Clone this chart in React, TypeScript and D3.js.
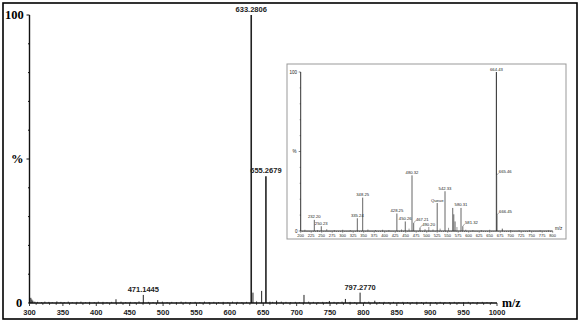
import React from "react";
import * as d3 from "d3";

// ---- Main spectrum data ----
const mainPeakMz = [632, 634.6, 647.6, 654, 470.4, 429.5, 492, 302, 303.5, 305, 670, 711, 749, 773, 795, 817];
const mainPeakHeight = [100, 3.6, 4.2, 44, 2.8, 1.3, 1.0, 1.8, 1.2, 0.8, 0.8, 2.8, 0.7, 1.4, 3.6, 0.8];
const mainPeakLabel = ["633.2806", "", "", "655.2679", "471.1445", "", "", "", "", "", "", "", "", "", "797.2770", ""];

const noiseMz = [308, 312, 318, 323, 329, 334, 341, 347, 352, 358, 364, 371, 377, 384, 390, 397, 403, 410, 416, 423, 437, 444, 451, 458, 464, 478, 485, 499, 506, 513, 520, 527, 534, 541, 548, 555, 562, 569, 576, 583, 590, 597, 604, 611, 618, 625, 640, 660, 664, 677, 684, 691, 698, 704, 718, 725, 732, 739, 745, 756, 762, 768, 780, 787, 802, 808, 824, 831, 838, 845, 852, 859, 866, 873, 880, 887, 894, 901, 908, 915, 922, 929, 936, 943, 950, 957, 964, 971, 978, 985, 992];
const noiseHeight = [0.5, 0.4, 0.3, 0.5, 0.4, 0.3, 0.6, 0.4, 0.3, 0.5, 0.3, 0.4, 0.5, 0.3, 0.4, 0.3, 0.5, 0.4, 0.3, 0.4, 0.5, 0.3, 0.4, 0.3, 0.6, 0.4, 0.3, 0.5, 0.3, 0.4, 0.3, 0.5, 0.4, 0.3, 0.4, 0.3, 0.5, 0.3, 0.4, 0.3, 0.4, 0.3, 0.5, 0.4, 0.3, 0.4, 0.6, 0.5, 0.4, 0.5, 0.4, 0.3, 0.4, 0.3, 0.5, 0.4, 0.3, 0.4, 0.3, 0.4, 0.3, 0.5, 0.4, 0.3, 0.4, 0.5, 0.3, 0.4, 0.3, 0.4, 0.3, 0.4, 0.3, 0.3, 0.4, 0.3, 0.4, 0.3, 0.3, 0.4, 0.3, 0.3, 0.4, 0.3, 0.3, 0.4, 0.3, 0.3, 0.4, 0.3, 0.3];

const mainTicks = [300, 350, 400, 450, 500, 550, 600, 650, 700, 750, 800, 850, 900, 950, 1000];

// ---- Inset spectrum data ----
const insetMz = [232.4, 249, 334.8, 347.6, 429, 449, 469, 465, 484, 525, 543.6, 562, 564.5, 567.5, 581.7, 586, 666, 666.6, 667.2, 680];
const insetHeight = [7, 3, 8, 21, 11, 6, 5, 35, 2, 17.6, 25, 14.5, 10.5, 6, 14.5, 3, 100, 35, 10, 1.5];
const insetLabel = ["232.20", "250.23", "335.24", "348.25", "428.25", "450.26", "467.21", "480.32", "490.20", "Queue", "542.33", "", "", "", "580.31", "581.32", "664.43", "665.46", "666.45", ""];
const insetLabelSide = ["top", "top", "top", "top", "top", "top", "right", "top", "right", "top", "top", "", "", "", "top", "right", "top", "right", "right", ""];

const insetNoiseMz = [210, 240, 262, 280, 300, 318, 360, 378, 395, 410, 440, 458, 496, 505, 515, 532, 552, 572, 593, 610, 630, 650, 700, 720, 745, 770, 790];
const insetNoiseHeight = [0.8, 0.6, 1.2, 0.6, 0.8, 0.6, 1.0, 0.6, 0.8, 0.6, 1.0, 1.5, 1.2, 2.5, 1.0, 1.5, 2.0, 2.5, 0.8, 0.6, 0.6, 0.8, 0.6, 0.5, 0.6, 0.5, 0.4];

const insetTicks = d3.range(200, 801, 25);

export default function App() {
  // main scales
  const x = d3.scaleLinear().domain([300, 1000]).range([29.5, 497]);
  const y = d3.scaleLinear().domain([0, 100]).range([303, 15]);
  // inset scales
  const ix = d3.scaleLinear().domain([200, 800]).range([300.7, 552.7]);
  const iy = d3.scaleLinear().domain([0, 100]).range([231, 72]);

  const serif = "'Liberation Serif', 'Times New Roman', serif";
  const sans = "'Liberation Sans', Arial, sans-serif";

  const minorMain = d3.range(300, 1001, 10);
  const minorInset = d3.range(200, 801, 5);

  return (
    <svg width={580} height={324} style={{ position: "absolute", left: 0, top: 0, background: "#fff" }}>
      <rect x={0} y={0} width={580} height={324} fill="#fff" />
      <rect x={3} y={3} width={574} height={316} fill="none" stroke="#000" strokeWidth={1.6} />

      {/* ===== Main chart ===== */}
      {noiseMz.map((m, i) => (
        <line key={"n" + i} x1={x(m)} x2={x(m)} y1={y(0)} y2={y(noiseHeight[i])} stroke="#333" strokeWidth={0.8} />
      ))}
      {mainPeakMz.map((m, i) => (
        <line key={"p" + i} x1={x(m)} x2={x(m)} y1={y(0)} y2={y(mainPeakHeight[i])} stroke="#222"
          strokeWidth={mainPeakHeight[i] > 20 ? 1.6 : 1} />
      ))}
      {mainPeakMz.map((m, i) =>
        mainPeakLabel[i] ? (
          <text key={"pl" + i} x={x(m)} y={y(mainPeakHeight[i]) - 3} textAnchor="middle" fontFamily={sans}
            fontSize={7.5} fontWeight="bold" fill="#222">{mainPeakLabel[i]}</text>
        ) : null
      )}
      {/* y axis */}
      <line x1={29.5} x2={29.5} y1={y(100)} y2={y(0)} stroke="#111" strokeWidth={1.4} />
      {d3.range(0, 101, 10).map((v) => (
        <line key={"yt" + v} x1={v === 100 || v === 50 ? 26.5 : 28} x2={29.5} y1={y(v)} y2={y(v)} stroke="#111" strokeWidth={1} />
      ))}
      <text x={5} y={y(100) + 4} fontFamily={serif} fontWeight="bold" fontSize={12.5} fill="#000">100</text>
      <text x={11} y={y(50) + 4} fontFamily={serif} fontWeight="bold" fontSize={12.5} fill="#000">%</text>
      <text x={16} y={y(0) + 4} fontFamily={serif} fontWeight="bold" fontSize={12.5} fill="#000">0</text>
      {/* x axis */}
      <line x1={29.5} x2={497} y1={y(0)} y2={y(0)} stroke="#111" strokeWidth={1.4} />
      {minorMain.map((v) => (
        <line key={"xm" + v} x1={x(v)} x2={x(v)} y1={y(0)} y2={y(0) + (v % 50 === 0 ? 3 : 1.8)} stroke="#111" strokeWidth={0.8} />
      ))}
      {mainTicks.map((v) => (
        <text key={"xl" + v} x={x(v)} y={314.5} textAnchor="middle" fontFamily={sans} fontSize={7.5} fontWeight="bold" fill="#222">{v}</text>
      ))}
      <text x={502} y={307} fontFamily={serif} fontWeight="bold" fontSize={12} fill="#000">m/z</text>

      {/* ===== Inset ===== */}
      <rect x={287} y={64} width={279} height={175} fill="#fff" stroke="#999" strokeWidth={1} />
      {insetNoiseMz.map((m, i) => (
        <line key={"in" + i} x1={ix(m)} x2={ix(m)} y1={iy(0)} y2={iy(insetNoiseHeight[i])} stroke="#555" strokeWidth={0.6} />
      ))}
      {insetMz.map((m, i) => (
        <line key={"ip" + i} x1={ix(m)} x2={ix(m)} y1={iy(0)} y2={iy(insetHeight[i])} stroke={insetHeight[i] > 50 ? "#444" : "#555"}
          strokeWidth={insetHeight[i] > 50 ? 1.2 : 0.9} />
      ))}
      {insetMz.map((m, i) => {
        const lab = insetLabel[i];
        if (!lab) return null;
        const px = ix(m);
        const py = iy(insetHeight[i]);
        if (insetLabelSide[i] === "right") {
          return (
            <g key={"il" + i}>
              <line x1={px} y1={py} x2={px + 2} y2={py - 2.5} stroke="#555" strokeWidth={0.5} />
              <text x={px + 2.2} y={py - 2.2} fontFamily={sans} fontSize={4.2} fill="#222">{lab}</text>
            </g>
          );
        }
        return (
          <text key={"il" + i} x={px} y={py - 1.5} textAnchor="middle" fontFamily={sans} fontSize={4.2} fill="#222">{lab}</text>
        );
      })}
      {/* inset axes */}
      <line x1={ix(200)} x2={ix(200)} y1={iy(100)} y2={iy(0)} stroke="#333" strokeWidth={1} />
      {d3.range(0, 101, 10).map((v) => (
        <line key={"iyt" + v} x1={ix(200) - (v % 50 === 0 ? 2 : 1)} x2={ix(200)} y1={iy(v)} y2={iy(v)} stroke="#333" strokeWidth={0.6} />
      ))}
      <text x={289.5} y={iy(100) + 1.5} fontFamily={sans} fontSize={4.5} fill="#222">100</text>
      <text x={292.5} y={iy(50) + 1.5} fontFamily={sans} fontSize={4.5} fill="#222">%</text>
      <text x={295} y={iy(0) + 1.5} fontFamily={sans} fontSize={4.5} fill="#222">0</text>
      <line x1={ix(200)} x2={ix(800)} y1={iy(0)} y2={iy(0)} stroke="#333" strokeWidth={1} />
      {minorInset.map((v) => (
        <line key={"ixm" + v} x1={ix(v)} x2={ix(v)} y1={iy(0)} y2={iy(0) + (v % 25 === 0 ? 1.8 : 1)} stroke="#333" strokeWidth={0.5} />
      ))}
      {insetTicks.map((v) => (
        <text key={"ixl" + v} x={ix(v)} y={236.5} textAnchor="middle" fontFamily={sans} fontSize={4} fill="#222">{v}</text>
      ))}
      <text x={555} y={230} fontFamily={sans} fontSize={4.5} fill="#222">m/z</text>
    </svg>
  );
}
